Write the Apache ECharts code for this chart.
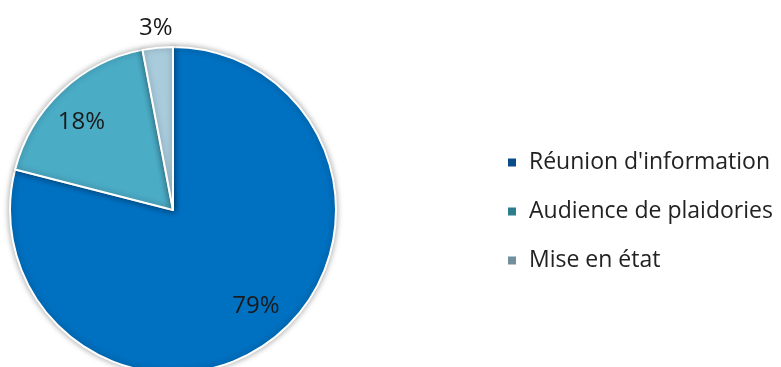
<!DOCTYPE html>
<html><head><meta charset="utf-8">
<script src="https://cdn.jsdelivr.net/npm/echarts@6/dist/echarts.min.js"></script>
<style>html,body{margin:0;padding:0;background:#fff}#c{width:781px;height:367px}</style>
</head><body><div id="c"></div>
<script>
const categories = ["Réunion d'information", "Audience de plaidories", "Mise en état"];
const values = [79, 18, 3];
const sliceColors = ['#0070C0', '#4BACC6', '#A9CCDD'];
const legendColors = ['#0B4C86', '#2E7C8C', '#71909C'];

const center = [173, 210];
const R = 163;
const font = '"Open Sans", "Liberation Sans", sans-serif';

const pieData = categories.map((n, i) => ({
  name: n, value: values[i],
  itemStyle: { color: sliceColors[i] }
}));

const chart = echarts.init(document.getElementById('c'));
chart.setOption({
  animation: false,
  legend: {
    orient: 'vertical', left: 506, top: 151, padding: 0,
    itemWidth: 10, itemHeight: 10, itemGap: 26,
    icon: 'rect',
    textStyle: { fontFamily: font, fontSize: 23, color: '#222', padding: [0, 0, 0, 7] },
    data: categories.map((n, i) => ({ name: n, itemStyle: { color: legendColors[i] } }))
  },
  series: [
    {
      type: 'pie', center: center, radius: [0, R],
      startAngle: 90, clockwise: true,
      label: { show: false }, labelLine: { show: false },
      itemStyle: { borderColor: '#fff', borderWidth: 2, shadowColor: 'rgba(0,0,0,0.35)', shadowBlur: 6 },
      data: pieData
    },
    {
      type: 'pie', center: center, radius: [85, R], silent: true,
      startAngle: 93, clockwise: true, legendHoverLink: false,
      itemStyle: { color: 'rgba(0,0,0,0)' },
      label: { position: 'inside', fontFamily: font, fontSize: 24, color: '#1a1a1a',
        formatter: p => p.dataIndex < 2 ? p.value + '%' : '' },
      labelLine: { show: false },
      data: categories.map((n, i) => ({ name: n + ' ', value: values[i] }))
    },
    {
      type: 'pie', center: center, radius: [165, 195], silent: true,
      startAngle: 90, clockwise: true,
      itemStyle: { color: 'rgba(0,0,0,0)' },
      label: { position: 'inside', fontFamily: font, fontSize: 24, color: '#1a1a1a',
        formatter: p => p.dataIndex === 2 ? p.value + '%' : '' },
      labelLine: { show: false },
      data: categories.map((n, i) => ({ name: n + '  ', value: values[i] }))
    }
  ]
});
</script></body></html>
